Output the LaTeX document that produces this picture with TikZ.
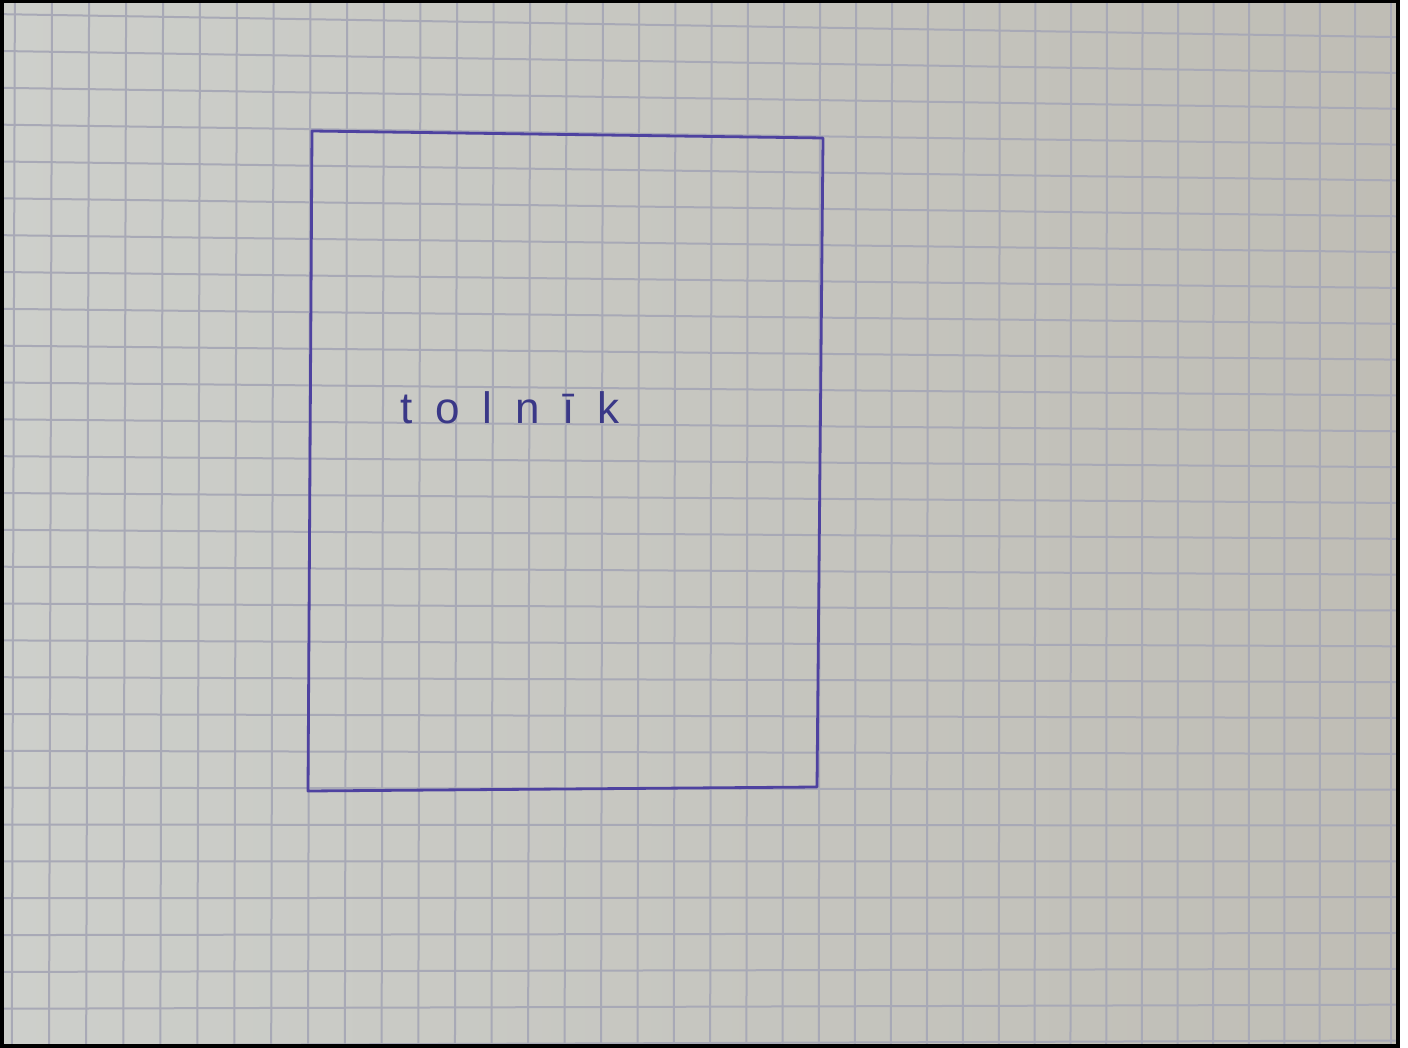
\documentclass[tikz,border=0pt]{standalone}
\usepackage{fontspec}
\newfontfamily\handfont{Liberation Sans}
\definecolor{paperL}{RGB}{205,207,203}
\definecolor{paperR}{RGB}{191,189,181}
\definecolor{gridc}{RGB}{168,169,182}
\definecolor{ink}{RGB}{78,66,160}
\definecolor{textink}{RGB}{58,56,135}
\begin{document}
\begin{tikzpicture}[x=1pt,y=-1pt,
  gridline/.style={draw=gridc,line width=2pt},
  pen/.style={draw=ink,line width=2.8pt,line join=round},
  hand/.style={text=textink,inner sep=0pt,font=\handfont\fontsize{44}{48}\selectfont\addfontfeature{LetterSpace=52}}]
\fill[white] (0,0) rectangle (1408,1048);
\useasboundingbox (0,0) rectangle (1408,1048);
\shade[left color=paperL,right color=paperR] (4,3) rectangle (1397,1045);
\begin{scope}
\clip (4,3) rectangle (1397,1045);
\foreach \k in {-1,...,37}{
  \pgfmathsetmacro\xtop{52+37.1*\k-0.025*\k*\k}
  \pgfmathsetmacro\xbot{\xtop-3*(1-\k/37)}
  \draw[gridline] (\xtop,0) -- (\xbot,1048);
}
\foreach \j in {-1,...,28}{
  \pgfmathsetmacro\yleft{15+36.8*\j}
  \pgfmathsetmacro\yright{37+35.84*\j}
  \pgfmathsetmacro\slp{(\yright-\yleft)/1338}
  \draw[gridline] (0,\yleft-52*\slp) -- (1408,\yright+18*\slp);
}
\end{scope}
\draw[black,line width=3.5pt] (2,1.5) rectangle (1398,1046);
\coordinate (tl) at (312,131);
\coordinate (tr) at (823,138);
\coordinate (br) at (817,787);
\coordinate (bl) at (308,791);
\draw[pen] (tl) -- (tr) -- (br) -- (bl) -- cycle;
\node[hand,anchor=base west] (label) at (400,423) {tolnīk};
\end{tikzpicture}
\end{document}
